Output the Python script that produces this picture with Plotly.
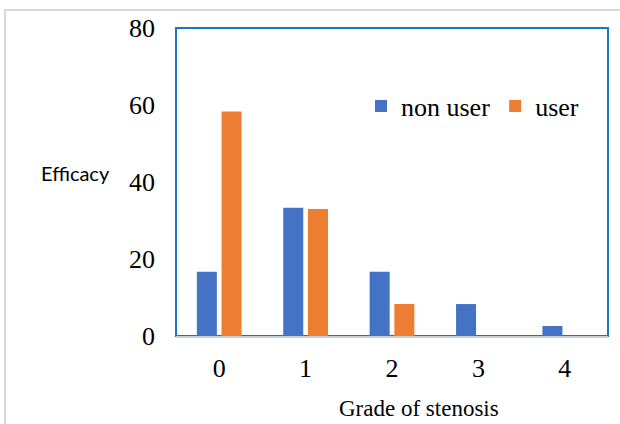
import plotly.graph_objects as go

categories = ["0", "1", "2", "3", "4"]
non_user = [16.7, 33.3, 16.7, 8.3, 2.6]
user = [58.3, 33.0, 8.3, 0, 0]
y_ticks = [0, 20, 40, 60, 80]

W, H = 620, 424
L, R, T, B = 176, 12, 28, 88
pw, ph = W - L - R, H - T - B

def px_x(px):
    return (px - L) / pw

def px_y(py):
    return (H - B - py) / ph

fig = go.Figure()
fig.add_trace(go.Bar(x=categories, y=non_user, name="non user",
                     marker=dict(color="#4472C4", line=dict(width=0))))
fig.add_trace(go.Bar(x=categories, y=user, name="user",
                     marker=dict(color="#ED7D31", line=dict(width=0))))

serif = "Liberation Serif"

fig.update_layout(
    width=W, height=H,
    margin=dict(l=L, r=R, t=T, b=B),
    paper_bgcolor="white", plot_bgcolor="white",
    barmode="group", bargap=0.428, bargroupgap=0.19,
    font=dict(family=serif, size=26, color="black"),
    showlegend=True,
    legend=dict(orientation="h", x=px_x(361), y=px_y(106), xanchor="left", yanchor="middle",
                font=dict(family=serif, size=26, color="black"),
                bgcolor="rgba(0,0,0,0)", itemwidth=30, tracegroupgap=0),
    xaxis=dict(range=[-0.5, 4.5], showgrid=False, zeroline=False,
               showline=True, linecolor="#C8D0D6", linewidth=2,
               ticks="", ticklabelstandoff=8,
               tickfont=dict(family=serif, size=26)),
    yaxis=dict(range=[0, 80], tickvals=y_ticks, showgrid=False, zeroline=False,
               showline=False, ticks="", ticklabelstandoff=20,
               tickfont=dict(family=serif, size=26)),
    shapes=[
        dict(type="rect", xref="paper", yref="paper", x0=0, x1=1, y0=0, y1=1,
             line=dict(color="#1B75C4", width=2), fillcolor="rgba(0,0,0,0)", layer="below"),
        dict(type="rect", xref="paper", yref="paper", x0=px_x(5), x1=px_x(640),
             y0=px_y(10), y1=px_y(440), line=dict(color="#D9D9D9", width=2),
             fillcolor="rgba(0,0,0,0)", layer="below"),
    ],
    annotations=[
        dict(text="Efficacy", xref="paper", yref="paper", x=px_x(39), y=px_y(173),
             xanchor="left", yanchor="middle", showarrow=False,
             font=dict(family="Lato", size=20, color="black")),
        dict(text="Grade of stenosis", xref="paper", yref="paper", x=px_x(419), y=px_y(409),
             xanchor="center", yanchor="middle", showarrow=False,
             font=dict(family=serif, size=23, color="black")),
    ],
)

fig.write_html("out.html", config={"displayModeBar": False},
               post_script="document.body.style.margin='0';document.body.style.padding='0';")
